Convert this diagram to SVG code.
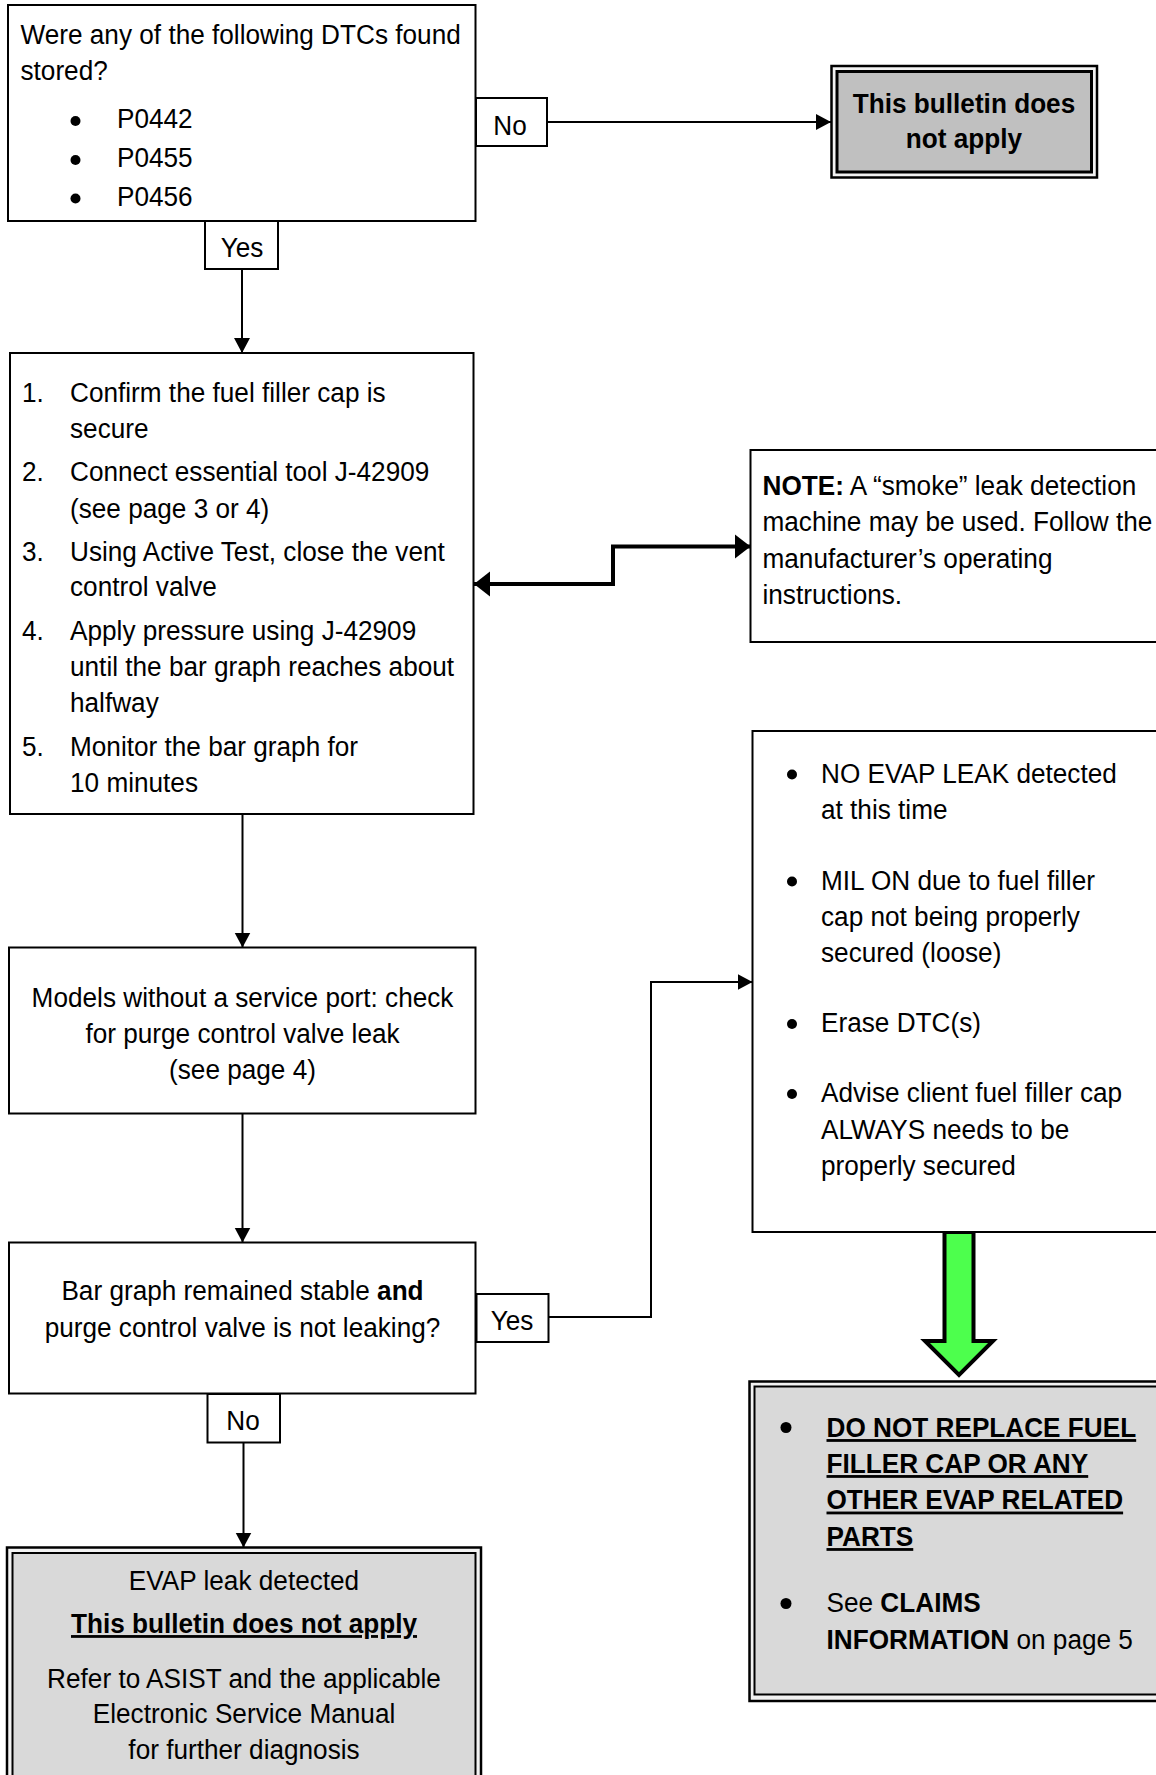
<svg xmlns="http://www.w3.org/2000/svg" width="1156" height="1775" viewBox="0 0 1156 1775">
<style>
text { font-family: "Liberation Sans", Arial, sans-serif; font-size: 28px; fill: #000; }
.b { font-weight: bold; }
.c { text-anchor: middle; }
.u { text-decoration: underline; }
.box { fill: #fff; stroke: #000; stroke-width: 2; }
.lbl { fill: #fff; stroke: #000; stroke-width: 2; }
.conn { fill: none; stroke: #000; stroke-width: 2; }
.thick { fill: none; stroke: #000; stroke-width: 4; }
.outer { fill: #f2f2f2; stroke: #000; stroke-width: 2.5; }
.dot { fill: #000; }
</style>
<defs>
<marker id="ah" markerUnits="userSpaceOnUse" markerWidth="16" markerHeight="17" refX="15" refY="8" orient="auto"><path d="M0,0 L15,8 L0,16 z" fill="#000"/></marker>
<marker id="ahT" markerUnits="userSpaceOnUse" markerWidth="17" markerHeight="26" refX="16" refY="12.5" orient="auto-start-reverse"><path d="M0,0 L16,12.5 L0,25 z" fill="#000"/></marker>
</defs>
<rect width="1156" height="1775" fill="#fff"/>

<g id="connectors">
<path class="conn" d="M547,122 H831" marker-end="url(#ah)"/>
<path class="conn" d="M242,269 V353" marker-end="url(#ah)"/>
<path class="conn" d="M242.5,814 V947.5" marker-end="url(#ah)"/>
<path class="conn" d="M242.5,1113.5 V1242.5" marker-end="url(#ah)"/>
<path class="conn" d="M548.5,1317 H651 V982 H752.5" marker-end="url(#ah)"/>
<path class="conn" d="M243.5,1442.5 V1547.5" marker-end="url(#ah)"/>
<path class="thick" d="M474,584 H613 V546.5 H750.5" marker-start="url(#ahT)" marker-end="url(#ahT)"/>
<path id="green-arrow" d="M944.5,1232 V1341 H925 L959,1375 L993,1341 H973.5 V1232 Z" fill="#4dff4d" stroke="#000" stroke-width="4" stroke-linejoin="miter"/>
</g>

<g id="labels">
<g id="lbl-no1"><rect class="lbl" x="476" y="98" width="71" height="48"/><g transform="translate(510 0) scale(0.935 1)"><text class="c" y="135">No</text></g></g>
<g id="lbl-yes1"><rect class="lbl" x="205" y="221" width="73" height="48"/><g transform="translate(242 0) scale(0.935 1)"><text class="c" y="257">Yes</text></g></g>
<g id="lbl-yes2"><rect class="lbl" x="476.5" y="1294" width="72" height="48"/><g transform="translate(512 0) scale(0.935 1)"><text class="c" y="1330">Yes</text></g></g>
<g id="lbl-no2"><rect class="lbl" x="207.5" y="1394" width="72.5" height="48.5"/><g transform="translate(243 0) scale(0.935 1)"><text class="c" y="1430">No</text></g></g>
</g>

<g id="n-dtc">
<rect class="box" x="8" y="5" width="467.5" height="216"/>
<g transform="translate(20.5 0) scale(0.935 1)">
<text y="44">Were any of the following DTCs found</text>
<text y="80.5">stored?</text>
</g>
<circle class="dot" cx="75.5" cy="121" r="5"/>
<circle class="dot" cx="75.5" cy="160" r="5"/>
<circle class="dot" cx="75.5" cy="198.5" r="5"/>
<g transform="translate(117 0) scale(0.935 1)">
<text y="128.5">P0442</text>
<text y="167.5">P0455</text>
<text y="206">P0456</text>
</g>
</g>

<g id="n-notapply1">
<rect class="outer" x="831.5" y="66" width="265.5" height="111.5"/>
<rect x="837" y="71.5" width="254.5" height="100.5" fill="#c0c0c0" stroke="#000" stroke-width="3"/>
<g transform="translate(964 0) scale(0.935 1)">
<text class="c b" y="113">This bulletin does</text>
<text class="c b" y="148">not apply</text>
</g>
</g>

<g id="n-steps">
<rect class="box" x="10" y="353" width="463.5" height="461"/>
<g transform="translate(22 0) scale(0.935 1)">
<text y="402.5">1.</text>
<text y="481.5">2.</text>
<text y="561">3.</text>
<text y="640">4.</text>
<text y="756.5">5.</text>
</g>
<g transform="translate(70 0) scale(0.935 1)">
<text y="402.5">Confirm the fuel filler cap is</text>
<text y="438">secure</text>
<text y="481.5">Connect essential tool J-42909</text>
<text y="518">(see page 3 or 4)</text>
<text y="561">Using Active Test, close the vent</text>
<text y="596.5">control valve</text>
<text y="640">Apply pressure using J-42909</text>
<text y="676.5">until the bar graph reaches about</text>
<text y="712.5">halfway</text>
<text y="756.5">Monitor the bar graph for</text>
<text y="792.5">10 minutes</text>
</g>
</g>

<g id="n-note">
<rect class="box" x="750.5" y="450" width="430" height="192"/>
<g transform="translate(762.5 0) scale(0.935 1)">
<text y="495"><tspan class="b">NOTE:</tspan> A “smoke” leak detection</text>
<text y="531.5">machine may be used. Follow the</text>
<text y="568">manufacturer’s operating</text>
<text y="604.5">instructions.</text>
</g>
</g>

<g id="n-purge">
<rect class="box" x="9" y="947.5" width="466.5" height="166"/>
<g transform="translate(242.5 0) scale(0.935 1)">
<text class="c" y="1007.5">Models without a service port: check</text>
<text class="c" y="1043">for purge control valve leak</text>
<text class="c" y="1079.5">(see page 4)</text>
</g>
</g>

<g id="n-stable">
<rect class="box" x="9" y="1242.5" width="466.5" height="151"/>
<g transform="translate(242.5 0) scale(0.935 1)">
<text class="c" y="1300">Bar graph remained stable <tspan class="b">and</tspan></text>
<text class="c" y="1337">purge control valve is not leaking?</text>
</g>
</g>

<g id="n-noleak">
<rect class="box" x="752.5" y="731" width="430" height="501"/>
<circle class="dot" cx="792" cy="774.5" r="5"/>
<circle class="dot" cx="792" cy="881.5" r="5"/>
<circle class="dot" cx="792" cy="1024" r="5"/>
<circle class="dot" cx="792" cy="1094" r="5"/>
<g transform="translate(821 0) scale(0.935 1)">
<text y="783.5">NO EVAP LEAK detected</text>
<text y="819.5">at this time</text>
<text y="890">MIL ON due to fuel filler</text>
<text y="926">cap not being properly</text>
<text y="962">secured (loose)</text>
<text y="1032.5">Erase DTC(s)</text>
<text y="1102.5">Advise client fuel filler cap</text>
<text y="1139">ALWAYS needs to be</text>
<text y="1175">properly secured</text>
</g>
</g>

<g id="n-donotreplace">
<rect class="outer" x="749.5" y="1381.5" width="430" height="319.5"/>
<rect x="754.5" y="1386.5" width="420" height="308" fill="#d9d9d9" stroke="#000" stroke-width="2"/>
<circle class="dot" cx="786" cy="1427.5" r="5.5"/>
<circle class="dot" cx="786" cy="1603.5" r="5.5"/>
<g transform="translate(826.5 0) scale(0.935 1)">
<text class="b u" y="1437">DO NOT REPLACE FUEL</text>
<text class="b u" y="1473">FILLER CAP OR ANY</text>
<text class="b u" y="1509.5">OTHER EVAP RELATED</text>
<text class="b u" y="1546">PARTS</text>
<text y="1612">See <tspan class="b">CLAIMS</tspan></text>
<text y="1649"><tspan class="b">INFORMATION</tspan> on page 5</text>
</g>
</g>

<g id="n-leak">
<rect class="outer" x="7" y="1547.5" width="474" height="240"/>
<rect x="12.5" y="1553" width="463" height="240" fill="#d9d9d9" stroke="#000" stroke-width="2"/>
<g transform="translate(244 0) scale(0.935 1)">
<text class="c" y="1590.5">EVAP leak detected</text>
<text class="c b u" y="1633">This bulletin does not apply</text>
<text class="c" y="1688">Refer to ASIST and the applicable</text>
<text class="c" y="1723.5">Electronic Service Manual</text>
<text class="c" y="1759.5">for further diagnosis</text>
</g>
</g>
</svg>
